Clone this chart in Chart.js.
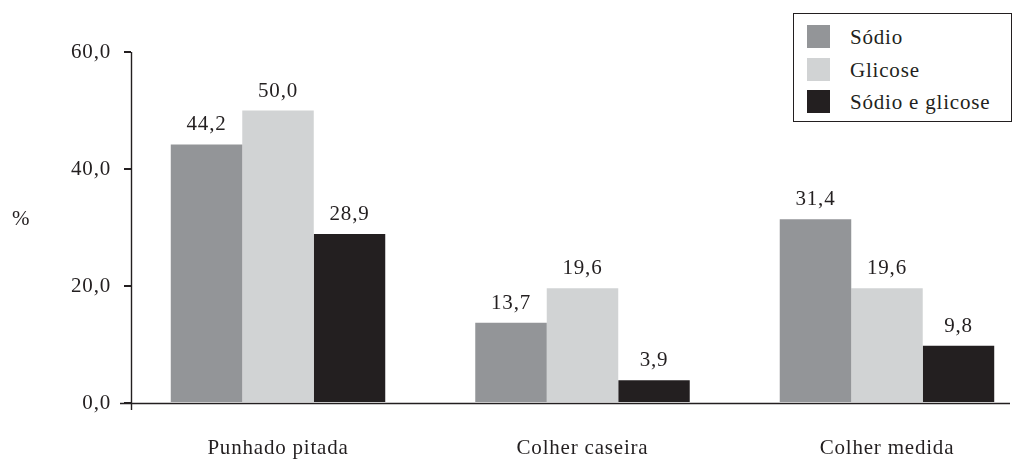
<!DOCTYPE html>
<html>
<head>
<meta charset="utf-8">
<script src="https://cdn.jsdelivr.net/npm/chart.js@4.4.1/dist/chart.umd.min.js"></script>
<style>
html,body{margin:0;padding:0;background:#fff;}
#wrap{position:relative;width:1026px;height:459px;overflow:hidden;}
#legend{position:absolute;left:793px;top:13px;width:219px;height:109px;border:1px solid #231f20;box-sizing:border-box;background:#fff;}
.sw{position:absolute;width:23px;height:23px;}
.lt{position:absolute;font-family:'Liberation Serif',serif;font-size:21px;line-height:23px;letter-spacing:0.8px;color:#231f20;white-space:nowrap;}
</style>
</head>
<body>
<div id="wrap">
<canvas id="c" width="1026" height="459"></canvas>
<div id="legend"></div>
</div>
<script>
const categories = ['Punhado pitada', 'Colher caseira', 'Colher medida'];
const seriesNames = ['Sódio', 'Glicose', 'Sódio e glicose'];
const sodio = [44.2, 13.7, 31.4];
const glicose = [50.0, 19.6, 19.6];
const sodioGlicose = [28.9, 3.9, 9.8];
const yTicks = [0, 20, 40, 60];
const yAxisTitle = '%';

const series = [sodio, glicose, sodioGlicose];
const colors = ['#939598', '#d1d3d4', '#231f20'];
const INK = '#231f20';
const FAMILY = "'Liberation Serif', serif";
const FONT = {family: FAMILY, size: 21};
const fmt = v => v.toFixed(1).replace('.', ',');

// HTML legend built from the series
const legend = document.getElementById('legend');
seriesNames.forEach((name, i) => {
  const sw = document.createElement('div');
  sw.className = 'sw';
  sw.style.left = '13px';
  sw.style.top = (11 + i * 32.5) + 'px';
  sw.style.background = colors[i];
  legend.appendChild(sw);
  const t = document.createElement('div');
  t.className = 'lt';
  t.style.left = '56px';
  t.style.top = (12.4 + i * 32.5) + 'px';
  t.textContent = name;
  legend.appendChild(t);
});

const spacingPlugin = {
  id: 'spacing',
  beforeUpdate(chart) { chart.ctx.letterSpacing = '0.8px'; },
  beforeDraw(chart) { chart.ctx.letterSpacing = '0.8px'; }
};

const decorPlugin = {
  id: 'decor',
  afterDatasetsDraw(chart) {
    const ctx = chart.ctx;
    const ys = chart.scales.y;
    const ca = chart.chartArea;
    const y0 = ys.getPixelForValue(0);
    ctx.save();
    ctx.letterSpacing = '0.8px';
    // axes
    ctx.strokeStyle = INK;
    ctx.lineWidth = 1.4;
    ctx.beginPath();
    ctx.moveTo(ca.left - 11, y0 + 0.5);
    ctx.lineTo(ca.right, y0 + 0.5);
    ctx.moveTo(ca.left + 0.5, ys.getPixelForValue(60));
    ctx.lineTo(ca.left + 0.5, y0 + 7);
    ctx.stroke();
    // value labels
    ctx.fillStyle = INK;
    ctx.font = '21px ' + FAMILY;
    ctx.textAlign = 'center';
    ctx.textBaseline = 'alphabetic';
    series.forEach((arr, i) => {
      const meta = chart.getDatasetMeta(i);
      meta.data.forEach((el, j) => {
        ctx.fillText(fmt(arr[j]), el.x, el.y - 14);
      });
    });
    // y axis title
    ctx.textAlign = 'left';
    ctx.textBaseline = 'middle';
    ctx.fillText(yAxisTitle, 12, (ca.top + ca.bottom) / 2 - 8);
    ctx.restore();
  }
};

new Chart(document.getElementById('c'), {
  type: 'bar',
  data: {
    datasets: series.map((arr, i) => ({
      label: seriesNames[i],
      data: arr.map((v, j) => ({x: j, y: v})),
      backgroundColor: colors[i],
      borderWidth: 0,
      categoryPercentage: 0.7044,
      barPercentage: 1.0
    }))
  },
  options: {
    responsive: false,
    animation: false,
    devicePixelRatio: 1,
    layout: {padding: {left: 0, top: 52, right: 16, bottom: 0}},
    plugins: {legend: {display: false}, tooltip: {enabled: false}},
    scales: {
      x: {
        type: 'linear',
        offset: false,
        min: -0.4828,
        max: 2.404,
        grid: {display: false, offset: false},
        border: {display: false},
        afterBuildTicks: s => { s.ticks = categories.map((c, i) => ({value: i})); },
        afterFit: s => { s.height = 56; },
        ticks: {font: FONT, color: INK, padding: 25, maxRotation: 0, autoSkip: false,
                callback: v => categories[v]}
      },
      y: {
        min: 0,
        max: 60,
        afterBuildTicks: s => { s.ticks = yTicks.map(v => ({value: v})); },
        afterFit: s => { s.width = 131; },
        grid: {drawOnChartArea: false, drawTicks: true, tickLength: 7, lineWidth: 2, color: INK},
        border: {display: false},
        ticks: {font: FONT, color: INK, padding: 13, callback: v => fmt(v)}
      }
    }
  },
  plugins: [spacingPlugin, decorPlugin]
});
</script>
</body>
</html>
